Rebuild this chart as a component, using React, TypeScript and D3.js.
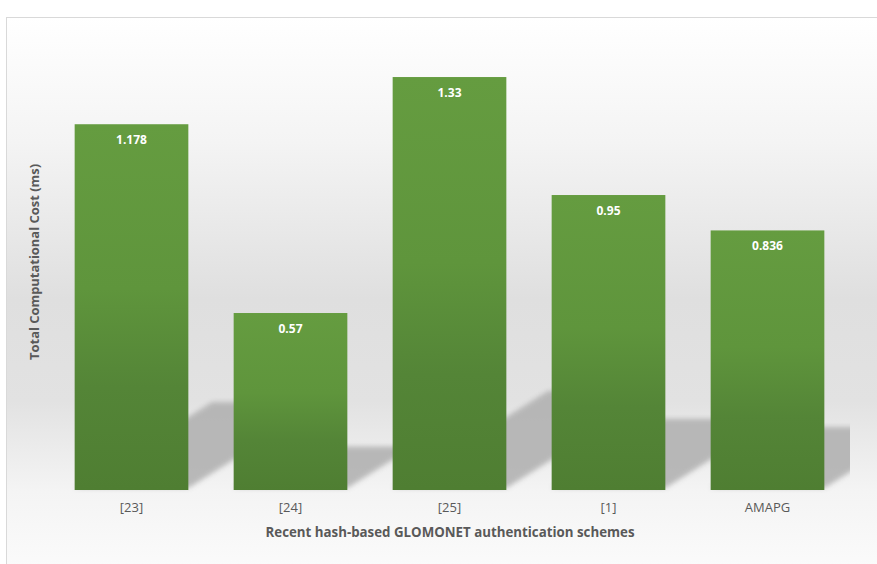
import React from "react";
import * as d3 from "d3";

const categories: string[] = ["[23]", "[24]", "[25]", "[1]", "AMAPG"];
const values: number[] = [1.178, 0.57, 1.33, 0.95, 0.836];
const valueLabels: string[] = ["1.178", "0.57", "1.33", "0.95", "0.836"];
const yDomain: number[] = [0, 1.4];
const xTitle = "Recent hash-based GLOMONET authentication schemes";
const yTitle = "Total Computational Cost (ms)";

const W = 877;
const H = 564;
const plot = { left: 52, right: 850, top: 55.3, bottom: 490 };

export default function App() {
  const x = d3
    .scaleBand<string>()
    .domain(categories)
    .range([plot.left, 847])
    .paddingInner(0.285)
    .paddingOuter(0.1425);
  const y = d3.scaleLinear().domain(yDomain).range([plot.bottom, plot.top]);
  const bw = x.bandwidth();

  const shadowPath = (v: number, cat: string) => {
    const x0 = x(cat)!;
    const x1 = x0 + bw;
    const h = y(0) - y(v);
    const sh = h * 0.235;
    const dx = sh * 1.6;
    const base = y(0) - 2;
    const p = d3.path();
    p.moveTo(x0, base);
    p.lineTo(x1, base);
    p.lineTo(x1 + dx, base - sh);
    p.lineTo(x0 + dx, base - sh);
    p.closePath();
    return p.toString();
  };

  const narrow = "'Liberation Sans Narrow', 'Open Sans', sans-serif";

  return (
    <svg
      width={W}
      height={H}
      style={{ position: "absolute", left: 0, top: 0, display: "block" }}
    >
      <defs>
        <linearGradient id="bg" x1="0" y1="0" x2="0" y2="1">
          <stop offset="0" stopColor="#ffffff" />
          <stop offset="0.22" stopColor="#f4f4f4" />
          <stop offset="0.5" stopColor="#dfdfdf" />
          <stop offset="0.68" stopColor="#e2e2e2" />
          <stop offset="0.84" stopColor="#f4f4f4" />
          <stop offset="1" stopColor="#fcfcfc" />
        </linearGradient>
        <linearGradient id="barg" x1="0" y1="0" x2="0" y2="1">
          <stop offset="0" stopColor="#659c40" />
          <stop offset="0.45" stopColor="#5f953c" />
          <stop offset="0.72" stopColor="#548537" />
          <stop offset="1" stopColor="#4f7e32" />
        </linearGradient>
        <filter id="blur" x="-20%" y="-20%" width="140%" height="140%">
          <feGaussianBlur stdDeviation="2.5" />
        </filter>
        <clipPath id="plotclip">
          <rect x={plot.left - 10} y={0} width={plot.right - plot.left + 10} height={plot.bottom + 3} />
        </clipPath>
      </defs>
      <rect x={0} y={0} width={W} height={H} fill="#ffffff" />
      <rect x={6.5} y={17.5} width={W + 10} height={H} fill="url(#bg)" stroke="#d9d9d9" strokeWidth={1} />

      <g clipPath="url(#plotclip)">
        {values.map((v, i) => (
          <path
            key={"s" + i}
            d={shadowPath(v, categories[i])}
            fill="#b2b2b2"
            opacity={0.9}
            filter="url(#blur)"
          />
        ))}
      </g>

      {values.map((v, i) => (
        <rect
          key={"b" + i}
          x={x(categories[i])!}
          y={y(v)}
          width={bw}
          height={y(0) - y(v)}
          fill="url(#barg)"
        />
      ))}

      {values.map((v, i) => (
        <text
          key={"l" + i}
          x={x(categories[i])! + bw / 2}
          y={y(v) + 19.5}
          textAnchor="middle"
          fill="#ffffff"
          fontFamily={narrow}
          fontWeight="bold"
          fontSize={12}
        >
          {valueLabels[i]}
        </text>
      ))}

      {categories.map((c, i) => (
        <text
          key={"t" + i}
          x={x(c)! + bw / 2}
          y={512}
          textAnchor="middle"
          fill="#595959"
          fontFamily={narrow}
          fontSize={13}
        >
          {c}
        </text>
      ))}

      <text
        x={450}
        y={537}
        textAnchor="middle"
        fill="#595959"
        fontFamily={narrow}
        fontWeight="bold"
        fontSize={13.5}
        textLength={369}
        lengthAdjust="spacingAndGlyphs"
      >
        {xTitle}
      </text>

      <text
        transform={`translate(39,${262}) rotate(-90)`}
        textAnchor="middle"
        fill="#595959"
        fontFamily="'Open Sans', 'DejaVu Sans', sans-serif"
        fontWeight="bold"
        fontSize={12}
        textLength={196}
        lengthAdjust="spacingAndGlyphs"
      >
        {yTitle}
      </text>
    </svg>
  );
}
